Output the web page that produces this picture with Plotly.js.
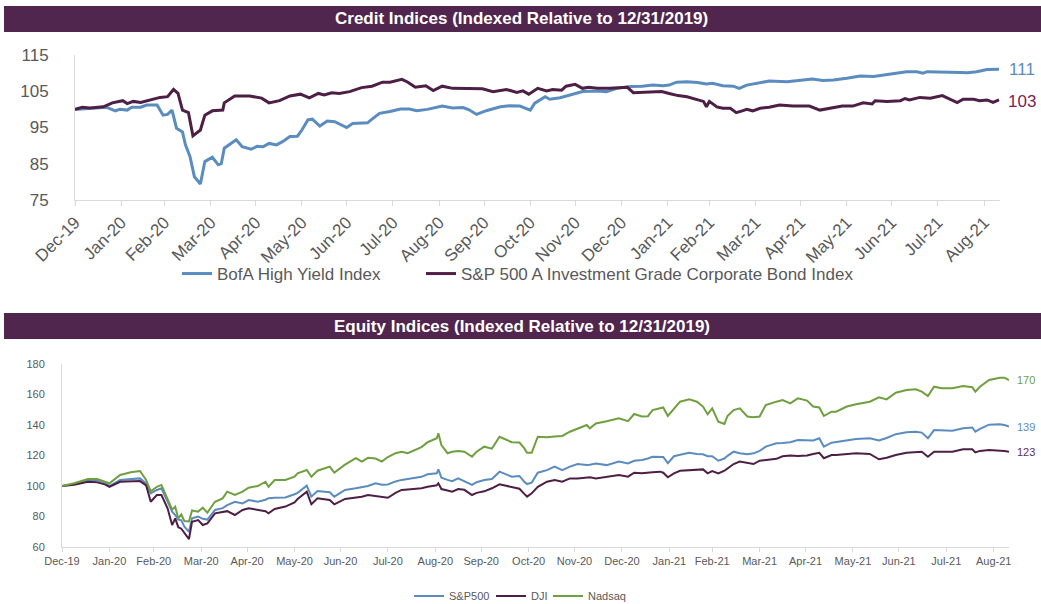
<!DOCTYPE html>
<html>
<head>
<meta charset="utf-8">
<script src="https://cdn.plot.ly/plotly-3.0.1.min.js"></script>
<style>
html,body{margin:0;padding:0;background:#ffffff;width:1041px;height:604px;overflow:hidden;}
#chart{display:block;width:1041px;height:604px;overflow:hidden;}
</style>
</head>
<body>
<div id="chart"></div>
<script>
// ---------------- DATA ----------------
// Shared month-end tick positions and labels
const tickDates = ["2019-12-31","2020-01-31","2020-02-29","2020-03-31","2020-04-30","2020-05-31","2020-06-30","2020-07-31","2020-08-31","2020-09-30","2020-10-31","2020-11-30","2020-12-31","2021-01-31","2021-02-28","2021-03-31","2021-04-30","2021-05-31","2021-06-30","2021-07-31","2021-08-31"];
const tickLabels = ["Dec-19","Jan-20","Feb-20","Mar-20","Apr-20","May-20","Jun-20","Jul-20","Aug-20","Sep-20","Oct-20","Nov-20","Dec-20","Jan-21","Feb-21","Mar-21","Apr-21","May-21","Jun-21","Jul-21","Aug-21"];
const creditYTicks = [75,85,95,105,115];
const equityYTicks = [60,80,100,120,140,160,180];

// Credit: BofA High Yield Index
const hyName = "BofA High Yield Index";
const hyDates = ["2019-12-31","2020-01-21","2020-01-27","2020-01-30","2020-02-04","2020-02-07","2020-02-13","2020-02-17","2020-02-24","2020-02-26","2020-02-28","2020-03-02","2020-03-05","2020-03-08","2020-03-12","2020-03-14","2020-03-17","2020-03-20","2020-03-24","2020-03-27","2020-04-01","2020-04-05","2020-04-07","2020-04-09","2020-04-15","2020-04-17","2020-04-21","2020-04-27","2020-05-01","2020-05-05","2020-05-09","2020-05-14","2020-05-18","2020-05-23","2020-05-28","2020-05-31","2020-06-04","2020-06-07","2020-06-12","2020-06-17","2020-06-22","2020-06-30","2020-07-04","2020-07-14","2020-07-17","2020-07-22","2020-07-29","2020-08-05","2020-08-11","2020-08-16","2020-08-23","2020-08-30","2020-09-02","2020-09-09","2020-09-16","2020-09-20","2020-09-25","2020-10-02","2020-10-11","2020-10-17","2020-10-24","2020-10-31","2020-11-03","2020-11-10","2020-11-13","2020-11-20","2020-11-29","2020-12-05","2020-12-15","2020-12-21","2020-12-28","2021-01-06","2021-01-14","2021-01-21","2021-01-28","2021-02-01","2021-02-06","2021-02-13","2021-02-20","2021-02-26","2021-03-02","2021-03-09","2021-03-16","2021-03-20","2021-03-25","2021-04-01","2021-04-05","2021-04-09","2021-04-21","2021-04-30","2021-05-08","2021-05-15","2021-05-22","2021-05-31","2021-06-09","2021-06-18","2021-06-24","2021-07-04","2021-07-10","2021-07-17","2021-07-21","2021-07-24","2021-08-02","2021-08-06","2021-08-15","2021-08-20","2021-08-26","2021-09-02","2021-09-10"];
const hyValues = [100,100.6,99.6,100,99.8,100.6,100.6,101.2,101.2,99.8,98.4,98.6,99.8,94.8,93.8,90.2,87,81.4,79.4,85.6,86.8,84.7,85,89.3,91.1,91.6,89.7,89,89.8,89.7,90.6,90.2,91.1,92.5,92.6,94.3,97.1,97.3,95.4,96.8,96.6,95,96.1,96.3,97.3,98.9,99.4,100.1,100.1,99.6,100,100.6,100.9,100.4,100.5,99.9,98.6,99.7,100.7,101,100.9,99.8,101.7,103.5,102.8,103.2,104.1,104.9,105.1,104.9,105.8,106.3,106.4,106.7,106.5,106.7,107.5,107.6,107.4,107,107.2,106.5,106.4,105.8,106.7,107.2,107.6,107.8,107.6,108.1,108.4,108,108.1,108.6,109.2,109.1,109.5,110.1,110.4,110.4,110,110.4,110.4,110.2,110.2,110.1,110.4,111,111.1];

// Credit: S&P 500 A Investment Grade Corporate Bond Index
const igName = "S&P 500 A Investment Grade Corporate Bond Index";
const igDates = ["2019-12-31","2020-01-05","2020-01-10","2020-01-19","2020-01-25","2020-02-01","2020-02-04","2020-02-08","2020-02-13","2020-02-19","2020-02-26","2020-03-02","2020-03-06","2020-03-09","2020-03-12","2020-03-16","2020-03-19","2020-03-24","2020-03-27","2020-04-01","2020-04-08","2020-04-09","2020-04-16","2020-04-26","2020-05-04","2020-05-09","2020-05-16","2020-05-23","2020-05-30","2020-06-05","2020-06-11","2020-06-15","2020-06-20","2020-06-25","2020-07-02","2020-07-10","2020-07-17","2020-07-24","2020-07-29","2020-08-06","2020-08-10","2020-08-15","2020-08-22","2020-08-27","2020-09-02","2020-09-09","2020-09-19","2020-09-29","2020-10-06","2020-10-15","2020-10-22","2020-10-26","2020-10-30","2020-11-05","2020-11-11","2020-11-15","2020-11-21","2020-11-24","2020-11-30","2020-12-05","2020-12-09","2020-12-15","2020-12-23","2020-12-30","2021-01-04","2021-01-08","2021-01-14","2021-01-21","2021-01-27","2021-02-01","2021-02-07","2021-02-13","2021-02-20","2021-02-24","2021-02-26","2021-02-28","2021-03-05","2021-03-09","2021-03-14","2021-03-18","2021-03-22","2021-03-25","2021-03-29","2021-04-03","2021-04-09","2021-04-16","2021-04-25","2021-05-06","2021-05-13","2021-05-20","2021-05-28","2021-06-04","2021-06-11","2021-06-17","2021-06-19","2021-06-27","2021-07-06","2021-07-09","2021-07-12","2021-07-19","2021-07-26","2021-08-03","2021-08-08","2021-08-13","2021-08-17","2021-08-24","2021-08-28","2021-09-02","2021-09-06","2021-09-10"];
const igValues = [100,100.6,100.4,100.7,101.8,102.4,101.6,102.2,101.9,102.6,103.3,103.5,105.5,104.4,99.8,99.1,92.7,94.3,98.4,99.6,99.8,101.8,103.7,103.7,103.1,101.8,102.4,103.7,104.2,103.2,104.4,104,104.6,104.4,104.9,106,106.4,107.5,107.5,108.3,107.5,106.1,106.5,105.2,106.4,105.8,105.8,105.7,104.9,105.5,104.7,105.1,104.2,105.8,105.1,105.5,105.3,106.4,106.9,105.8,106.1,105.8,105.8,106,106.1,104.6,104.7,104.9,104.9,104.4,103.8,103.5,102.8,102.2,100.7,102.2,100.7,100.3,100.3,99.1,99.6,100,99.6,100.3,100.6,101.2,100.9,100.9,99.8,100.3,100.9,100.9,101.8,101.5,102.4,102.2,102.4,103,102.6,103.3,103.1,103.8,102.8,101.9,102.8,102.8,102.4,102.6,101.9,102.6];

// Equity indices (common dates)
const eqDates = ["2019-12-31","2020-01-08","2020-01-17","2020-01-23","2020-01-28","2020-01-31","2020-02-07","2020-02-14","2020-02-20","2020-02-24","2020-02-27","2020-03-02","2020-03-05","2020-03-09","2020-03-12","2020-03-14","2020-03-16","2020-03-18","2020-03-20","2020-03-23","2020-03-25","2020-03-29","2020-04-01","2020-04-04","2020-04-09","2020-04-14","2020-04-17","2020-04-22","2020-04-27","2020-05-01","2020-05-07","2020-05-12","2020-05-14","2020-05-18","2020-05-25","2020-05-31","2020-06-02","2020-06-08","2020-06-11","2020-06-15","2020-06-23","2020-06-26","2020-07-03","2020-07-10","2020-07-14","2020-07-18","2020-07-23","2020-07-27","2020-07-31","2020-08-05","2020-08-09","2020-08-13","2020-08-18","2020-08-22","2020-08-26","2020-09-01","2020-09-02","2020-09-04","2020-09-08","2020-09-11","2020-09-15","2020-09-19","2020-09-24","2020-09-27","2020-10-02","2020-10-07","2020-10-12","2020-10-20","2020-10-25","2020-10-28","2020-10-30","2020-11-02","2020-11-06","2020-11-12","2020-11-17","2020-11-22","2020-11-27","2020-12-02","2020-12-08","2020-12-10","2020-12-14","2020-12-21","2020-12-29","2021-01-04","2021-01-08","2021-01-13","2021-01-17","2021-01-20","2021-01-25","2021-01-27","2021-01-30","2021-02-03","2021-02-07","2021-02-13","2021-02-18","2021-02-22","2021-02-25","2021-02-28","2021-03-04","2021-03-08","2021-03-10","2021-03-14","2021-03-18","2021-03-23","2021-03-27","2021-03-31","2021-04-04","2021-04-11","2021-04-15","2021-04-20","2021-04-25","2021-05-01","2021-05-05","2021-05-09","2021-05-12","2021-05-17","2021-05-20","2021-05-27","2021-06-02","2021-06-11","2021-06-17","2021-06-22","2021-06-28","2021-07-05","2021-07-11","2021-07-15","2021-07-19","2021-07-23","2021-07-28","2021-08-04","2021-08-11","2021-08-17","2021-08-19","2021-08-22","2021-08-28","2021-09-04","2021-09-07","2021-09-10"];
const spxValues = [100,101.3,103.9,103.9,102.4,100,103.9,104.6,105,101.8,95.2,97.4,98.5,89.7,83.2,81,78,77.5,73.3,70,78.8,79.9,78.5,78,84.3,85.5,87.5,89.7,88.6,90.8,89.7,91,91.9,92.3,92.5,94.6,95.5,100.2,93,96.7,95.9,93,97.4,98.5,99,100,101.8,100.8,101,103,104,104.6,105,106,107.7,108.3,110.9,105.5,104,103.2,105,103.2,100.7,102.5,103.9,104.6,109.4,106.1,106.6,103,101.3,102.2,108.7,110.4,112.7,110.4,112.7,114.4,113.7,114,114.8,113.7,116,114.8,116.5,117.1,118,119.2,119.2,119,115,119.5,120.5,121.8,121,120.8,119.5,119.5,116.6,118,119.8,122.5,121.5,120.8,121.4,123,125.8,128,128.2,128.7,130.2,130,129.8,131.3,125.8,128.4,128.8,129.8,130.8,131.3,129.8,131.5,134,135.3,135.5,135,131.3,136.7,136.5,136.3,137.8,138.4,135.6,137.5,140.2,140.5,140,139];
const djiValues = [100,100.8,102.8,102.4,101.1,99.5,102.8,103.2,103.2,100.4,89.7,94.1,94.1,85.4,74.4,78.8,73,72,69,65.2,76.6,77.7,74.4,75.5,82.1,82.7,83.5,81,84.3,85.4,84.3,83.5,82.1,84.9,86.5,89.3,91.5,96.3,88,91.9,90.8,88,91.5,92.3,93,94.1,93.5,93,92.3,95.5,97.4,97.7,98,98.5,99.5,100.5,101.8,98,97,96.3,98,97.5,94.1,95.5,96.5,98.5,101.1,99.5,98.2,95,93,95.2,99.5,102.8,103.9,102.8,105,105,105.5,105.7,105,106.1,107.2,106.1,108.7,108.3,108.5,109,109.4,108.7,105.7,108.3,110,110.3,110.6,110.9,108.3,109.8,108.3,110,111.5,114.4,116,115,114.4,116.6,117,117.8,119.5,120,119.6,120,121,121.8,118.2,120.3,120.3,121,121.4,121,117.5,118.5,120.3,121.8,122.5,122.5,119.2,122.5,122.5,122.5,124.1,124.1,122,123,123.6,123.4,123,122.5];
const ndxValues = [100,101.8,104.6,104.6,102.8,101.8,107.2,109,109.8,103.9,96.5,99.5,100.7,92,84.5,86.4,78.8,81.4,77,76.7,84,83.2,85.8,82.5,89.7,91.9,96.3,94.1,96.3,98.9,100,102.8,99.5,103.9,103.9,106.1,108.3,110.5,106.1,110,112.7,108.8,114,118.2,116,118.5,118,116,119,121.5,122.5,121.5,124,125.5,128.7,131.3,134.6,126.9,121.5,122.5,123,122.5,119.2,122.5,125.8,124.5,132.3,128.7,128.5,125,121.8,121.8,132.3,131.9,132.5,132.8,135.6,137.8,140,137.8,141,142.5,144.4,142.5,147.2,145.6,145.8,149.8,150.9,151.5,145.9,150.9,155.3,156.8,155.3,152.1,147,150.9,142.2,140.7,145.9,149.8,150.9,145.6,145.1,145.6,153.1,155.3,156.4,154.2,157.5,156,152.1,151.5,145.9,148.7,148.7,152.1,153.6,155.3,158.2,156.8,161.2,163,163.4,161.9,159,165.1,164.1,164.1,165.6,164.8,161.9,165.1,169.5,171,171,169.5];
const spxName = "S&P500", djiName = "DJI", ndxName = "Nadsaq";

// ---------------- STYLE ----------------
const W = 1041, H = 604;
const px = v => v / W;
const py = v => 1 - v / H;
const FONT = 'Arial, "Liberation Sans", sans-serif';
const GREY = '#595959', AXIS = '#d9d9d9', HEADER = '#51264e';
const BLUE = '#5b8cbf', PURPLE = '#4e1f45', GREEN = '#6f9f3e';

const last = a => a[a.length - 1];

const traces = [
  {x: hyDates, y: hyValues, name: hyName, type: 'scatter', mode: 'lines', xaxis: 'x', yaxis: 'y',
   line: {color: BLUE, width: 3}, legend: 'legend'},
  {x: igDates, y: igValues, name: igName, type: 'scatter', mode: 'lines', xaxis: 'x', yaxis: 'y',
   line: {color: PURPLE, width: 3}, legend: 'legend2'},
  {x: eqDates, y: spxValues, name: spxName, type: 'scatter', mode: 'lines', xaxis: 'x2', yaxis: 'y2',
   line: {color: BLUE, width: 2}, legend: 'legend3'},
  {x: eqDates, y: djiValues, name: djiName, type: 'scatter', mode: 'lines', xaxis: 'x2', yaxis: 'y2',
   line: {color: PURPLE, width: 2}, legend: 'legend4'},
  {x: eqDates, y: ndxValues, name: ndxName, type: 'scatter', mode: 'lines', xaxis: 'x2', yaxis: 'y2',
   line: {color: GREEN, width: 2}, legend: 'legend5'}
];

function legendAt(xPx, yPx, size) {
  return {x: px(xPx), xanchor: 'left', y: py(yPx), yanchor: 'middle', orientation: 'h',
          bgcolor: 'rgba(0,0,0,0)', borderwidth: 0, font: {family: FONT, size: size, color: GREY}};
}

function endLabel(xa, ya, dates, vals, color, size, xshift, yshift) {
  return {xref: xa, yref: ya, x: last(dates), y: last(vals), text: String(Math.round(last(vals))),
          xanchor: 'left', yanchor: 'middle', xshift: xshift, yshift: yshift || 0, showarrow: false,
          font: {family: FONT, size: size, color: color}};
}

const layout = {
  width: W, height: H,
  margin: {l: 0, r: 0, t: 0, b: 0, autoexpand: false},
  paper_bgcolor: '#ffffff', plot_bgcolor: '#ffffff',
  font: {family: FONT, color: GREY},
  showlegend: true,
  hovermode: false,
  xaxis: {
    domain: [px(75), px(1000)], anchor: 'y', type: 'date',
    range: ['2019-12-31', '2021-09-10 16:00'],
    tickmode: 'array', tickvals: tickDates, ticktext: tickLabels, tickangle: -45,
    tickfont: {family: FONT, size: 17, color: GREY},
    ticks: 'outside', ticklen: 5, tickcolor: AXIS, tickwidth: 1,
    showline: true, linecolor: AXIS, linewidth: 1, showgrid: false, zeroline: false
  },
  yaxis: {
    domain: [py(200), py(55)], anchor: 'x', range: [75, 115],
    tickmode: 'array', tickvals: creditYTicks,
    tickfont: {family: FONT, size: 17, color: GREY},
    ticks: '', ticklabelstandoff: 22,
    showline: true, linecolor: AXIS, linewidth: 1, showgrid: false, zeroline: false
  },
  xaxis2: {
    domain: [px(62), px(1009)], anchor: 'y2', type: 'date',
    range: ['2019-12-31', '2021-09-10'],
    tickmode: 'array', tickvals: tickDates, ticktext: tickLabels, tickangle: 0,
    tickfont: {family: FONT, size: 11, color: GREY},
    ticks: 'outside', ticklen: 4, tickcolor: AXIS, tickwidth: 1,
    showline: true, linecolor: AXIS, linewidth: 1, showgrid: false, zeroline: false
  },
  yaxis2: {
    domain: [py(547), py(364)], anchor: 'x2', range: [60, 180],
    tickmode: 'array', tickvals: equityYTicks,
    tickfont: {family: FONT, size: 11, color: GREY},
    ticks: '', ticklabelstandoff: 14,
    showline: true, linecolor: AXIS, linewidth: 1, showgrid: false, zeroline: false
  },
  legend: legendAt(177, 274, 17),
  legend2: legendAt(421, 274, 17),
  legend3: legendAt(409, 596, 11),
  legend4: legendAt(491, 596, 11),
  legend5: legendAt(548, 596, 11),
  shapes: [
    {type: 'rect', xref: 'paper', yref: 'paper', x0: px(4), x1: 1, y0: py(32), y1: py(6),
     fillcolor: HEADER, line: {width: 0}, layer: 'below'},
    {type: 'rect', xref: 'paper', yref: 'paper', x0: px(4), x1: 1, y0: py(339), y1: py(313),
     fillcolor: HEADER, line: {width: 0}, layer: 'below'}
  ],
  annotations: [
    {xref: 'paper', yref: 'paper', x: px(521), y: py(19), xanchor: 'center', yanchor: 'middle',
     text: '<b>Credit Indices (Indexed Relative to 12/31/2019)</b>', showarrow: false,
     font: {family: FONT, size: 17, color: '#ffffff'}},
    {xref: 'paper', yref: 'paper', x: px(522), y: py(326), xanchor: 'center', yanchor: 'middle',
     text: '<b>Equity Indices (Indexed Relative to 12/31/2019)</b>', showarrow: false,
     font: {family: FONT, size: 17, color: '#ffffff'}},
    endLabel('x', 'y', hyDates, hyValues, BLUE, 17, 8, 0),
    endLabel('x', 'y', igDates, igValues, '#7d2250', 17, 7, -2),
    endLabel('x2', 'y2', eqDates, ndxValues, GREEN, 11, 6, 0),
    endLabel('x2', 'y2', eqDates, spxValues, BLUE, 11, 6, 0),
    endLabel('x2', 'y2', eqDates, djiValues, '#5e2d57', 11, 6, 0)
  ]
};

Plotly.newPlot('chart', traces, layout, {staticPlot: true, displayModeBar: false});
</script>
</body>
</html>
